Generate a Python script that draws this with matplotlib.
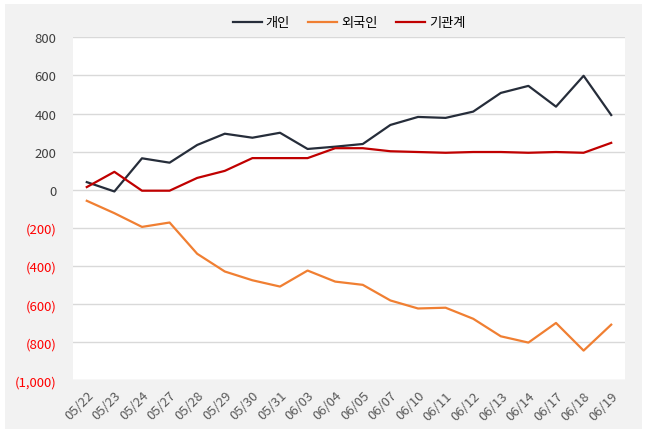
import matplotlib
matplotlib.use('Agg')
import matplotlib.pyplot as plt
from matplotlib.patches import Rectangle

plt.rcParams['font.family'] = ['Noto Sans CJK KR', 'DejaVu Sans']

dates = ['05/22', '05/23', '05/24', '05/27', '05/28', '05/29', '05/30', '05/31',
         '06/03', '06/04', '06/05', '06/07', '06/10', '06/11', '06/12', '06/13',
         '06/14', '06/17', '06/18', '06/19']
individual = [40, -9, 165, 142, 235, 294, 273, 299, 214, 226,
              240, 340, 382, 377, 410, 508, 545, 436, 598, 392]
foreign = [-58, -123, -195, -172, -336, -429, -475, -508, -424, -482,
           -499, -581, -623, -619, -677, -769, -802, -699, -844, -708]
institution = [14, 94, -5, -5, 62, 99, 166, 166, 166, 218,
               218, 202, 198, 194, 198, 198, 194, 198, 194, 246]
y_ticks = [800, 600, 400, 200, 0, -200, -400, -600, -800, -1000]

fig = plt.figure(figsize=(6.47, 4.35), dpi=100, facecolor='white')
# light grey panel inside a thin white frame
fig.patches.append(Rectangle((5 / 647, 5 / 435), 637 / 647, 425 / 435,
                             transform=fig.transFigure, facecolor='#f2f2f2',
                             edgecolor='none', zorder=-10))
ax = fig.add_axes([0.1128, 0.1234, 0.8532, 0.7886])
ax.set_facecolor('white')

x = list(range(len(dates)))
ax.plot(x, individual, color='#262d3a', lw=1.6, label='개인')
ax.plot(x, foreign, color='#f07f32', lw=1.6, label='외국인')
ax.plot(x, institution, color='#c00000', lw=1.6, label='기관계')

ax.set_xlim(-0.5, len(dates) - 0.5)
ax.set_ylim(-1000, 800)
ax.set_yticks(y_ticks)
labels = []
for v in y_ticks:
    labels.append(f'({abs(v):,})' if v < 0 else f'{v:,}')
ax.set_yticklabels(labels)
for lbl, v in zip(ax.get_yticklabels(), y_ticks):
    lbl.set_color('#ff0000' if v < 0 else '#404040')

ax.set_xticks(x)
ax.set_xticklabels(dates, rotation=45, ha='right', rotation_mode='anchor',
                   color='#595959')
ax.tick_params(axis='both', length=0, labelsize=9.5)
ax.tick_params(axis='x', pad=6)
ax.tick_params(axis='y', pad=12)

ax.grid(axis='y', color='#d9d9d9', lw=1)
ax.set_axisbelow(True)
for s in ax.spines.values():
    s.set_visible(False)

ax.legend(loc='lower center', bbox_to_anchor=(0.5, 1.0), ncol=3, frameon=False,
          fontsize=9.5, handlelength=2.2, handletextpad=0.3, columnspacing=1.4,
          borderaxespad=0.2)

fig.savefig('out.png', dpi=100, facecolor=fig.get_facecolor())
